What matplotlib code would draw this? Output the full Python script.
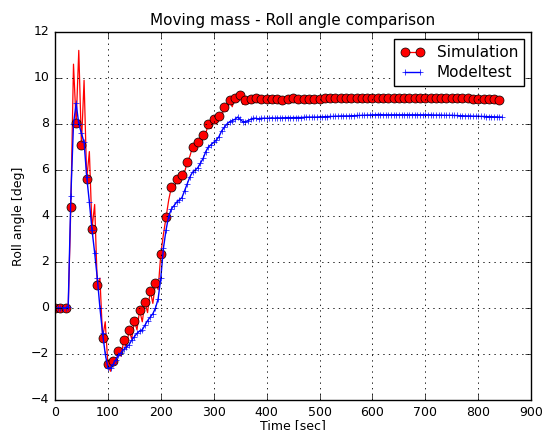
import numpy as np
from matplotlib import pyplot as plt

plt.style.use('classic')

# sample times [sec], 5 s step
time = np.arange(0, 850, 5)

# simulation roll angle [deg] (markers on every 10 s)
sim_roll = [
    0, 0, 0, 0, 0, 0, 4.4, 10.6, 8.05, 11.2,
    7.1, 9.9, 5.6, 6.8, 3.45, 4.5, 1.0, 1.3, -1.3, -0.6,
    -2.45, -2.75, -2.3, -2.4, -1.85, -2.1, -1.4, -1.75, -0.95, -1.35,
    -0.55, -0.95, -0.1, -0.6, 0.25, -0.2, 0.75, 0.2, 1.1, 0.8,
    2.35, 3.2, 3.95, 4.7, 5.25, 5.1, 5.6, 5.4, 5.8, 5.9,
    6.35, 6.6, 7.0, 6.8, 7.2, 7.1, 7.5, 7.6, 8.0, 7.8,
    8.2, 8.0, 8.35, 8.3, 8.75, 8.55, 9.05, 8.75, 9.15, 8.95,
    9.25, 8.85, 9.05, 8.9, 9.1, 8.95, 9.15, 9.0, 9.1, 9.0,
    9.1, 9.05, 9.1, 9.05, 9.1, 9.05, 9.05, 9.05, 9.08, 9.05,
    9.12, 9.06, 9.08, 9.05, 9.07, 9.05, 9.07, 9.05, 9.08, 9.06,
    9.1, 9.08, 9.13, 9.1, 9.15, 9.12, 9.15, 9.12, 9.12, 9.1,
    9.15, 9.12, 9.12, 9.1, 9.12, 9.1, 9.12, 9.1, 9.12, 9.1,
    9.12, 9.1, 9.12, 9.1, 9.12, 9.1, 9.12, 9.1, 9.12, 9.12,
    9.15, 9.12, 9.15, 9.12, 9.12, 9.12, 9.15, 9.12, 9.15, 9.12,
    9.15, 9.12, 9.15, 9.12, 9.12, 9.1, 9.12, 9.1, 9.15, 9.12,
    9.12, 9.1, 9.12, 9.1, 9.12, 9.1, 9.12, 9.1, 9.08, 9.06,
    9.08, 9.06, 9.08, 9.06, 9.08, 9.06, 9.08, 9.06, 9.05, 9.05,
]

# model test roll angle [deg]
model_roll = [
    0, 0, 0, 0, 0, 0.05, 4.85, 8.0, 8.9, 8.0,
    7.6, 7.2, 5.7, 4.6, 3.4, 2.4, 1.3, 0.0, -1.1, -2.0,
    -2.6, -2.6, -2.45, -2.25, -2.05, -1.95, -1.8, -1.7, -1.6, -1.4,
    -1.25, -1.1, -1.0, -0.95, -0.75, -0.55, -0.4, -0.25, 0.0, 0.4,
    1.3, 2.6, 3.4, 4.0, 4.3, 4.45, 4.6, 4.7, 4.8, 5.1,
    5.4, 5.7, 5.9, 6.0, 6.1, 6.3, 6.5, 6.8, 7.0, 7.1,
    7.2, 7.3, 7.45, 7.7, 7.85, 8.0, 8.1, 8.15, 8.2, 8.3,
    8.2, 8.1, 8.1, 8.15, 8.2, 8.25, 8.25, 8.22, 8.25, 8.25,
    8.25, 8.25, 8.27, 8.25, 8.27, 8.26, 8.27, 8.27, 8.28, 8.27,
    8.28, 8.28, 8.28, 8.28, 8.29, 8.3, 8.3, 8.3, 8.3, 8.3,
    8.31, 8.31, 8.32, 8.32, 8.33, 8.33, 8.34, 8.34, 8.35, 8.35,
    8.35, 8.35, 8.36, 8.36, 8.37, 8.37, 8.38, 8.38, 8.39, 8.39,
    8.4, 8.4, 8.41, 8.41, 8.4, 8.4, 8.4, 8.4, 8.4, 8.4,
    8.4, 8.4, 8.4, 8.4, 8.4, 8.4, 8.4, 8.4, 8.4, 8.4,
    8.4, 8.4, 8.4, 8.39, 8.39, 8.39, 8.39, 8.38, 8.38, 8.38,
    8.38, 8.37, 8.37, 8.36, 8.36, 8.35, 8.35, 8.35, 8.34, 8.34,
    8.34, 8.33, 8.33, 8.32, 8.32, 8.32, 8.31, 8.31, 8.3, 8.3,
]

fig = plt.figure(figsize=(5.47, 4.30), dpi=100, facecolor='white')
ax = fig.add_axes([0.1005, 0.0698, 0.8705, 0.8558])

ax.plot(time, sim_roll, 'r-', marker='o', markevery=2, markersize=6.5,
        markeredgecolor='k', markeredgewidth=0.5, linewidth=0.9, label='Simulation')
ax.plot(time, model_roll, 'b-', marker='+', markersize=5,
        markeredgewidth=0.5, linewidth=1, label='Modeltest')

ax.set_xlim(0, 900)
ax.set_ylim(-4, 12)
ax.grid(True, linestyle=':', color='k', linewidth=0.6)
ax.tick_params(labelsize=9)
ax.set_title('Moving mass - Roll angle comparison', fontsize=11)
ax.set_xlabel('Time [sec]', fontsize=9, labelpad=0)
ax.set_ylabel('Roll angle [deg]', fontsize=9, labelpad=4)
ax.legend(loc='upper right', numpoints=2, fontsize=11, handlelength=1.6,
          labelspacing=0.35, borderaxespad=0.45)

plt.savefig('out.png', dpi=100, facecolor='white')
